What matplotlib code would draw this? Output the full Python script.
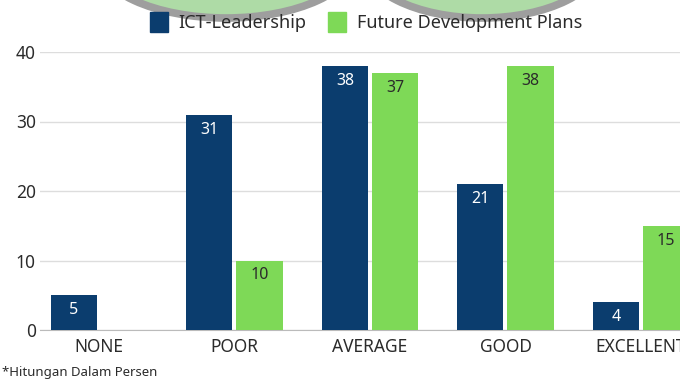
import matplotlib
matplotlib.use("Agg")
import matplotlib.pyplot as plt
from matplotlib.patches import Ellipse, Patch

categories = ["NONE", "POOR", "AVERAGE", "GOOD", "EXCELLENT"]
ict_leadership = [5, 31, 38, 21, 4]
future_plans = [None, 10, 37, 38, 15]
yticks = [0, 10, 20, 30, 40]

BLUE = "#0b3d6e"
GREEN = "#7ed957"
TEXT = "#2b2b2b"

plt.rcParams["font.family"] = ["Noto Sans", "DejaVu Sans"]

fig = plt.figure(figsize=(6.8, 3.8), dpi=100)

# watermark (sunglasses shape, cut at the top of the picture)
for cx, wd in ((226, 260), (482, 240)):
    e = Ellipse((cx / 680, 1 + 42 / 380), wd / 680, 120 / 380,
                transform=fig.transFigure, facecolor="#aedba6",
                edgecolor="#9e9e9e", linewidth=5.5, zorder=0)
    fig.patches.append(e)

ax = fig.add_axes([40 / 680, 1 - 330 / 380, 1 - 40 / 680, (330 - 52) / 380])
ax.set_zorder(1)

x = list(range(len(categories)))
w = 0.34
off = 0.185
for i in x:
    v = ict_leadership[i]
    ax.bar(i - off, v, width=w, color=BLUE, zorder=3)
    ax.text(i - off, v - 1.0, str(v), ha="center", va="top", color="white",
            fontsize=11.5, zorder=4)
    v = future_plans[i]
    if v is not None:
        ax.bar(i + off, v, width=w, color=GREEN, zorder=3)
        ax.text(i + off, v - 1.0, str(v), ha="center", va="top", color=TEXT,
                fontsize=11.5, zorder=4)

ax.set_xlim(-0.435, 4.288)
ax.set_ylim(0, 40)
ax.set_yticks(yticks)
ax.set_yticklabels([str(t) for t in yticks], fontsize=12.5, color=TEXT)
ax.set_xticks(x)
ax.set_xticklabels(categories, fontsize=12.5, color=TEXT)
ax.tick_params(length=0)
ax.tick_params(axis="y", pad=3)
ax.tick_params(axis="x", pad=6)
ax.grid(axis="y", color="#dddddd", linewidth=1, zorder=0)
for s in ("top", "right", "left"):
    ax.spines[s].set_visible(False)
ax.spines["bottom"].set_color("#bbbbbb")
ax.patch.set_alpha(0)

handles = [Patch(color=BLUE, label="ICT-Leadership"),
           Patch(color=GREEN, label="Future Development Plans")]
fig.legend(handles=handles, loc="center", bbox_to_anchor=(366 / 680, 1 - 22 / 380),
           ncol=2, frameon=False, fontsize=13, handlelength=1.0,
           handleheight=1.3, columnspacing=1.2, handletextpad=0.6,
           labelcolor=TEXT)

fig.text(2 / 680, 0.003, "*Hitungan Dalam Persen", fontsize=9.5, color=TEXT,
         ha="left", va="bottom")

fig.savefig("out.png", dpi=100)
